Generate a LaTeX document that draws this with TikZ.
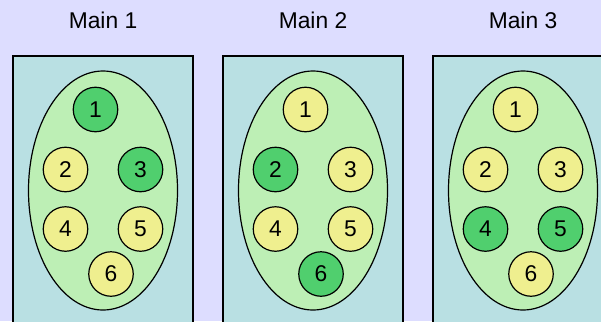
\documentclass[tikz,border=0pt]{standalone}
\usepackage{fontspec}
\setmainfont{Liberation Sans}
\definecolor{bgc}{HTML}{DDDDFF}
\definecolor{panelc}{HTML}{B9E0E3}
\definecolor{ellc}{HTML}{BDEFB5}
\definecolor{darkc}{HTML}{50CF6E}
\definecolor{lightc}{HTML}{EFEF8F}
\tikzset{
  title/.style={font=\fontsize{22.8}{26}\selectfont, inner sep=0pt},
  panel/.style={draw=black, fill=panelc, line width=1.2pt},
  egg/.style={draw=black, fill=ellc, line width=1.2pt},
  ball/.style={draw=black, circle, minimum size=44.5pt, inner sep=0pt, line width=1.2pt, font=\fontsize{22.8}{26}\selectfont},
  on/.style={ball, fill=darkc},
  off/.style={ball, fill=lightc},
}
\begin{document}
\begin{tikzpicture}[x=1pt,y=-1pt]
\clip (0,0) rectangle (601,321);
\fill[bgc] (0,0) rectangle (601,321);
\foreach \cx/\n/\a/\b/\c/\d/\e/\f in {103/1/on/off/on/off/off/off, 313/2/off/on/off/off/off/on, 523/3/off/off/off/on/on/off}{
  \node[title] (t\n) at (\cx,20.7) {Main \n};
  \draw[panel] (\cx-90,56) rectangle (\cx+90,340);
  \draw[egg] (\cx,190.5) ellipse [x radius=74.5, y radius=119.5];
  \node[\a] (c\n a) at (\cx-7.5,109.5) {1};
  \node[\b] (c\n b) at (\cx-37.5,169.5) {2};
  \node[\c] (c\n c) at (\cx+37.5,169.5) {3};
  \node[\d] (c\n d) at (\cx-37.5,229) {4};
  \node[\e] (c\n e) at (\cx+37.5,229) {5};
  \node[\f] (c\n f) at (\cx+8,274) {6};
}
\end{tikzpicture}
\end{document}
